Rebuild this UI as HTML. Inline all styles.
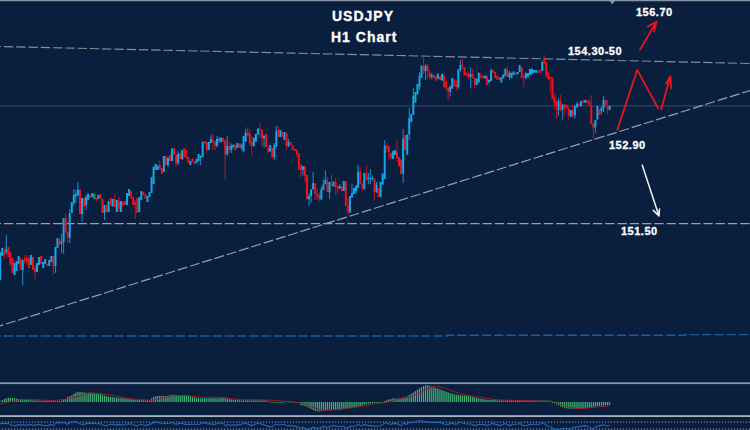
<!DOCTYPE html>
<html><head><meta charset="utf-8"><style>
html,body{margin:0;padding:0;}
body{width:750px;height:430px;overflow:hidden;background:#0a1f3d;position:relative;font-family:"Liberation Sans",sans-serif;}
.t{position:absolute;color:#ffffff;font-weight:bold;white-space:nowrap;line-height:1;-webkit-text-stroke:0.3px #fff;}
.h{font-size:14px;letter-spacing:1px;}
.n{font-size:11px;letter-spacing:0.5px;}
</style></head><body>
<svg width="750" height="430" viewBox="0 0 750 430" style="position:absolute;left:0;top:0"><defs><filter id="bl" x="-1%" y="-1%" width="102%" height="102%"><feGaussianBlur stdDeviation="0.35"/></filter></defs><rect x="0" y="105.2" width="750" height="1.4" fill="#2e3f5c"/><line x1="0" y1="46.5" x2="750" y2="63.5" stroke="#858e9c" stroke-width="1.15" stroke-dasharray="9.3 2.97" stroke-dashoffset="-4" opacity="1"/><line x1="0" y1="223.5" x2="750" y2="223.5" stroke="#98a0ad" stroke-width="1.25" stroke-dasharray="9.3 2.97" stroke-dashoffset="-4" opacity="1"/><line x1="0" y1="325.9" x2="750" y2="90.5" stroke="#98a0ad" stroke-width="1.2" stroke-dasharray="10.06 2.8" stroke-dashoffset="-6.18" opacity="1"/><path d="M0,336 H447 V335.3 H685 V334.6 H750" fill="none" stroke="#1d5aa0" stroke-width="1.4" stroke-dasharray="9.3 2.97" stroke-dashoffset="-4"/><g filter="url(#bl)"><rect x="-0.78" y="252.00" width="2" height="28.00" fill="#14a8e6"/><rect x="1.27" y="248.00" width="2" height="8.00" fill="#14a8e6"/><rect x="3.81" y="247.00" width="1" height="4.00" fill="#c0142a"/><rect x="3.81" y="255.00" width="1" height="4.00" fill="#c0142a"/><rect x="3.31" y="251.00" width="2" height="4.00" fill="#e8121e"/><rect x="5.86" y="235.00" width="1" height="14.00" fill="#1d8ccc"/><rect x="5.86" y="252.00" width="1" height="2.00" fill="#1d8ccc"/><rect x="5.36" y="249.00" width="2" height="3.00" fill="#14a8e6"/><rect x="7.40" y="247.00" width="2" height="10.00" fill="#e8121e"/><rect x="9.45" y="252.00" width="2" height="13.00" fill="#e8121e"/><rect x="11.49" y="258.00" width="2" height="15.00" fill="#e8121e"/><rect x="13.54" y="263.00" width="2" height="12.00" fill="#14a8e6"/><rect x="15.58" y="261.00" width="2" height="10.00" fill="#14a8e6"/><rect x="17.63" y="256.00" width="2" height="8.00" fill="#14a8e6"/><rect x="19.67" y="258.00" width="2" height="12.00" fill="#e8121e"/><rect x="22.22" y="270.00" width="1" height="15.00" fill="#1d8ccc"/><rect x="21.72" y="260.00" width="2" height="10.00" fill="#14a8e6"/><rect x="24.26" y="255.00" width="1" height="3.00" fill="#c0142a"/><rect x="24.26" y="261.00" width="1" height="3.00" fill="#c0142a"/><rect x="23.76" y="258.00" width="2" height="3.00" fill="#e8121e"/><rect x="26.31" y="255.00" width="1" height="3.00" fill="#c0142a"/><rect x="26.31" y="262.00" width="1" height="3.00" fill="#c0142a"/><rect x="25.81" y="258.00" width="2" height="4.00" fill="#e8121e"/><rect x="27.85" y="258.00" width="2" height="10.00" fill="#e8121e"/><rect x="29.90" y="255.00" width="2" height="10.00" fill="#14a8e6"/><rect x="31.94" y="257.00" width="2" height="13.00" fill="#e8121e"/><rect x="34.49" y="265.00" width="1" height="3.00" fill="#c0142a"/><rect x="34.49" y="272.00" width="1" height="7.00" fill="#c0142a"/><rect x="33.99" y="268.00" width="2" height="4.00" fill="#e8121e"/><rect x="36.03" y="263.00" width="2" height="9.00" fill="#14a8e6"/><rect x="38.08" y="257.00" width="2" height="8.00" fill="#14a8e6"/><rect x="40.12" y="256.00" width="2" height="8.00" fill="#e8121e"/><rect x="42.17" y="262.00" width="2" height="6.00" fill="#14a8e6"/><rect x="44.21" y="259.00" width="2" height="5.00" fill="#14a8e6"/><rect x="46.26" y="264.00" width="2" height="2.00" fill="#e8121e"/><rect x="48.30" y="260.00" width="2" height="6.00" fill="#14a8e6"/><rect x="50.35" y="256.00" width="2" height="6.00" fill="#14a8e6"/><rect x="52.90" y="266.00" width="1" height="9.00" fill="#c0142a"/><rect x="52.40" y="256.00" width="2" height="10.00" fill="#e8121e"/><rect x="54.94" y="266.00" width="1" height="7.00" fill="#1d8ccc"/><rect x="54.44" y="247.00" width="2" height="19.00" fill="#14a8e6"/><rect x="56.49" y="238.00" width="2" height="10.00" fill="#14a8e6"/><rect x="58.53" y="239.00" width="2" height="5.70" fill="#e8121e"/><rect x="61.08" y="234.00" width="1" height="8.00" fill="#1d8ccc"/><rect x="61.08" y="244.00" width="1" height="9.00" fill="#1d8ccc"/><rect x="60.58" y="242.00" width="2" height="2.00" fill="#14a8e6"/><rect x="63.12" y="242.00" width="1" height="12.00" fill="#1d8ccc"/><rect x="62.62" y="218.00" width="2" height="24.00" fill="#14a8e6"/><rect x="65.17" y="213.30" width="1" height="4.50" fill="#c0142a"/><rect x="64.67" y="217.80" width="2" height="14.80" fill="#e8121e"/><rect x="67.21" y="237.70" width="1" height="5.30" fill="#c0142a"/><rect x="66.71" y="232.00" width="2" height="5.70" fill="#e8121e"/><rect x="69.26" y="209.00" width="1" height="4.00" fill="#1d8ccc"/><rect x="69.26" y="238.00" width="1" height="5.00" fill="#1d8ccc"/><rect x="68.76" y="213.00" width="2" height="25.00" fill="#14a8e6"/><rect x="70.80" y="202.00" width="2" height="11.00" fill="#14a8e6"/><rect x="73.35" y="189.00" width="1" height="6.00" fill="#1d8ccc"/><rect x="73.35" y="203.00" width="1" height="3.00" fill="#1d8ccc"/><rect x="72.85" y="195.00" width="2" height="8.00" fill="#14a8e6"/><rect x="75.39" y="190.00" width="1" height="4.00" fill="#1d8ccc"/><rect x="75.39" y="196.00" width="1" height="7.00" fill="#1d8ccc"/><rect x="74.89" y="194.00" width="2" height="2.00" fill="#14a8e6"/><rect x="77.44" y="182.00" width="1" height="7.50" fill="#1d8ccc"/><rect x="77.44" y="195.00" width="1" height="2.00" fill="#1d8ccc"/><rect x="76.94" y="189.50" width="2" height="5.50" fill="#14a8e6"/><rect x="78.98" y="189.50" width="2" height="24.50" fill="#e8121e"/><rect x="81.53" y="214.00" width="1" height="7.50" fill="#1d8ccc"/><rect x="81.03" y="198.00" width="2" height="16.00" fill="#14a8e6"/><rect x="83.07" y="198.00" width="2" height="9.00" fill="#e8121e"/><rect x="85.62" y="195.00" width="1" height="2.00" fill="#1d8ccc"/><rect x="85.62" y="205.00" width="1" height="5.00" fill="#1d8ccc"/><rect x="85.12" y="197.00" width="2" height="8.00" fill="#14a8e6"/><rect x="87.16" y="193.60" width="2" height="6.40" fill="#14a8e6"/><rect x="89.21" y="195.00" width="2" height="3.00" fill="#e8121e"/><rect x="91.25" y="193.00" width="2" height="4.00" fill="#14a8e6"/><rect x="93.30" y="194.00" width="2" height="5.00" fill="#2aa84a"/><rect x="95.34" y="197.70" width="2" height="2.90" fill="#e8121e"/><rect x="97.39" y="195.00" width="2" height="4.00" fill="#14a8e6"/><rect x="99.43" y="194.00" width="2" height="5.00" fill="#e8121e"/><rect x="101.48" y="199.00" width="2" height="14.00" fill="#e8121e"/><rect x="104.03" y="213.00" width="1" height="7.00" fill="#1d8ccc"/><rect x="103.53" y="205.00" width="2" height="8.00" fill="#14a8e6"/><rect x="105.57" y="205.00" width="2" height="7.00" fill="#e8121e"/><rect x="107.62" y="201.00" width="2" height="11.00" fill="#14a8e6"/><rect x="109.66" y="198.00" width="2" height="7.50" fill="#e8121e"/><rect x="111.71" y="199.00" width="2" height="7.60" fill="#14a8e6"/><rect x="114.25" y="194.00" width="1" height="5.00" fill="#c0142a"/><rect x="113.75" y="199.00" width="2" height="8.00" fill="#e8121e"/><rect x="115.80" y="200.00" width="2" height="12.00" fill="#14a8e6"/><rect x="118.34" y="197.00" width="1" height="4.00" fill="#c0142a"/><rect x="118.34" y="209.00" width="1" height="3.00" fill="#c0142a"/><rect x="117.84" y="201.00" width="2" height="8.00" fill="#e8121e"/><rect x="119.89" y="201.00" width="2" height="11.00" fill="#14a8e6"/><rect x="122.43" y="201.00" width="1" height="1.00" fill="#c0142a"/><rect x="122.43" y="205.00" width="1" height="2.00" fill="#c0142a"/><rect x="121.93" y="202.00" width="2" height="3.00" fill="#e8121e"/><rect x="123.98" y="201.00" width="2" height="4.00" fill="#e8121e"/><rect x="126.02" y="193.00" width="2" height="12.00" fill="#14a8e6"/><rect x="128.07" y="189.00" width="2" height="7.00" fill="#14a8e6"/><rect x="130.11" y="191.00" width="2" height="7.50" fill="#e8121e"/><rect x="132.16" y="197.00" width="2" height="8.00" fill="#e8121e"/><rect x="134.70" y="200.00" width="1" height="2.00" fill="#c0142a"/><rect x="134.70" y="205.00" width="1" height="14.00" fill="#c0142a"/><rect x="134.20" y="202.00" width="2" height="3.00" fill="#e8121e"/><rect x="136.25" y="198.00" width="2" height="15.00" fill="#e8121e"/><rect x="138.29" y="197.00" width="2" height="15.00" fill="#14a8e6"/><rect x="140.34" y="191.00" width="2" height="9.00" fill="#14a8e6"/><rect x="142.38" y="192.00" width="2" height="3.00" fill="#e8121e"/><rect x="144.43" y="194.00" width="2" height="4.50" fill="#e8121e"/><rect x="146.47" y="196.00" width="2" height="6.00" fill="#14a8e6"/><rect x="148.52" y="192.00" width="2" height="5.00" fill="#14a8e6"/><rect x="150.56" y="177.00" width="2" height="16.00" fill="#14a8e6"/><rect x="152.61" y="166.60" width="2" height="17.40" fill="#14a8e6"/><rect x="154.66" y="164.00" width="2" height="6.00" fill="#14a8e6"/><rect x="156.70" y="165.50" width="2" height="4.50" fill="#14a8e6"/><rect x="159.25" y="160.00" width="1" height="5.00" fill="#c0142a"/><rect x="159.25" y="169.50" width="1" height="0.50" fill="#c0142a"/><rect x="158.75" y="165.00" width="2" height="4.50" fill="#e8121e"/><rect x="160.79" y="168.00" width="2" height="6.00" fill="#e8121e"/><rect x="162.84" y="156.00" width="2" height="16.00" fill="#14a8e6"/><rect x="164.88" y="156.00" width="2" height="9.00" fill="#e8121e"/><rect x="167.43" y="157.00" width="1" height="1.00" fill="#1d8ccc"/><rect x="167.43" y="165.00" width="1" height="2.00" fill="#1d8ccc"/><rect x="166.93" y="158.00" width="2" height="7.00" fill="#14a8e6"/><rect x="168.97" y="155.00" width="2" height="6.00" fill="#e8121e"/><rect x="171.02" y="148.60" width="2" height="12.40" fill="#14a8e6"/><rect x="173.06" y="148.00" width="2" height="7.00" fill="#e8121e"/><rect x="175.61" y="154.50" width="1" height="0.50" fill="#c0142a"/><rect x="175.61" y="163.00" width="1" height="4.00" fill="#c0142a"/><rect x="175.11" y="155.00" width="2" height="8.00" fill="#e8121e"/><rect x="177.65" y="151.50" width="1" height="2.50" fill="#1d8ccc"/><rect x="177.65" y="163.00" width="1" height="2.00" fill="#1d8ccc"/><rect x="177.15" y="154.00" width="2" height="9.00" fill="#14a8e6"/><rect x="179.20" y="153.00" width="2" height="6.00" fill="#e8121e"/><rect x="181.24" y="150.00" width="2" height="9.60" fill="#14a8e6"/><rect x="183.29" y="148.00" width="2" height="9.00" fill="#e8121e"/><rect x="185.33" y="150.00" width="2" height="8.50" fill="#e8121e"/><rect x="187.38" y="157.00" width="2" height="6.00" fill="#e8121e"/><rect x="189.42" y="161.00" width="2" height="4.00" fill="#14a8e6"/><rect x="191.97" y="158.00" width="1" height="1.00" fill="#c0142a"/><rect x="191.97" y="161.00" width="1" height="1.00" fill="#c0142a"/><rect x="191.47" y="159.00" width="2" height="2.00" fill="#e8121e"/><rect x="193.51" y="161.00" width="2" height="3.00" fill="#e8121e"/><rect x="195.56" y="159.00" width="2" height="4.00" fill="#14a8e6"/><rect x="197.60" y="154.00" width="2" height="7.00" fill="#14a8e6"/><rect x="200.15" y="158.00" width="1" height="7.00" fill="#1d8ccc"/><rect x="199.65" y="155.70" width="2" height="2.30" fill="#14a8e6"/><rect x="201.69" y="141.70" width="2" height="15.30" fill="#14a8e6"/><rect x="203.74" y="141.00" width="2" height="2.50" fill="#e8121e"/><rect x="206.29" y="150.00" width="1" height="3.00" fill="#c0142a"/><rect x="205.79" y="142.00" width="2" height="8.00" fill="#e8121e"/><rect x="207.83" y="142.00" width="2" height="8.00" fill="#14a8e6"/><rect x="210.38" y="135.00" width="1" height="4.00" fill="#1d8ccc"/><rect x="209.88" y="139.00" width="2" height="4.00" fill="#14a8e6"/><rect x="212.42" y="133.60" width="1" height="5.80" fill="#c0142a"/><rect x="212.42" y="141.70" width="1" height="8.30" fill="#c0142a"/><rect x="211.92" y="139.40" width="2" height="2.30" fill="#e8121e"/><rect x="214.47" y="146.00" width="1" height="4.00" fill="#c0142a"/><rect x="213.97" y="141.00" width="2" height="5.00" fill="#e8121e"/><rect x="216.51" y="136.00" width="1" height="3.00" fill="#1d8ccc"/><rect x="216.51" y="146.00" width="1" height="1.60" fill="#1d8ccc"/><rect x="216.01" y="139.00" width="2" height="7.00" fill="#14a8e6"/><rect x="218.56" y="137.00" width="1" height="2.00" fill="#1d8ccc"/><rect x="218.56" y="140.00" width="1" height="3.00" fill="#1d8ccc"/><rect x="218.06" y="139.00" width="2" height="1.20" fill="#14a8e6"/><rect x="220.10" y="137.70" width="2" height="4.30" fill="#14a8e6"/><rect x="222.15" y="137.70" width="2" height="4.00" fill="#e8121e"/><rect x="224.69" y="154.50" width="1" height="25.00" fill="#c0142a"/><rect x="224.19" y="140.00" width="2" height="14.50" fill="#e8121e"/><rect x="226.74" y="136.00" width="1" height="10.00" fill="#1d8ccc"/><rect x="226.74" y="154.50" width="1" height="1.20" fill="#1d8ccc"/><rect x="226.24" y="146.00" width="2" height="8.50" fill="#14a8e6"/><rect x="228.78" y="142.00" width="1" height="4.00" fill="#c0142a"/><rect x="228.78" y="150.00" width="1" height="3.00" fill="#c0142a"/><rect x="228.28" y="146.00" width="2" height="4.00" fill="#e8121e"/><rect x="230.83" y="143.50" width="1" height="2.50" fill="#1d8ccc"/><rect x="230.83" y="150.00" width="1" height="3.00" fill="#1d8ccc"/><rect x="230.33" y="146.00" width="2" height="4.00" fill="#14a8e6"/><rect x="232.37" y="144.60" width="2" height="3.00" fill="#14a8e6"/><rect x="234.42" y="145.00" width="2" height="5.00" fill="#e8121e"/><rect x="236.46" y="143.00" width="2" height="5.00" fill="#14a8e6"/><rect x="238.51" y="143.50" width="2" height="4.10" fill="#e8121e"/><rect x="241.05" y="143.50" width="1" height="1.10" fill="#1d8ccc"/><rect x="241.05" y="148.00" width="1" height="2.00" fill="#1d8ccc"/><rect x="240.55" y="144.60" width="2" height="3.40" fill="#14a8e6"/><rect x="242.60" y="136.00" width="2" height="15.60" fill="#14a8e6"/><rect x="245.14" y="129.00" width="1" height="3.40" fill="#1d8ccc"/><rect x="245.14" y="141.70" width="1" height="0.30" fill="#1d8ccc"/><rect x="244.64" y="132.40" width="2" height="9.30" fill="#14a8e6"/><rect x="247.19" y="127.00" width="1" height="5.00" fill="#c0142a"/><rect x="247.19" y="136.00" width="1" height="0.50" fill="#c0142a"/><rect x="246.69" y="132.00" width="2" height="4.00" fill="#e8121e"/><rect x="249.23" y="129.00" width="1" height="4.00" fill="#c0142a"/><rect x="249.23" y="143.00" width="1" height="3.00" fill="#c0142a"/><rect x="248.73" y="133.00" width="2" height="10.00" fill="#e8121e"/><rect x="251.28" y="136.50" width="1" height="5.50" fill="#c0142a"/><rect x="251.28" y="146.00" width="1" height="9.70" fill="#c0142a"/><rect x="250.78" y="142.00" width="2" height="4.00" fill="#e8121e"/><rect x="252.82" y="137.70" width="2" height="8.70" fill="#14a8e6"/><rect x="254.87" y="134.00" width="2" height="7.70" fill="#14a8e6"/><rect x="256.92" y="128.40" width="2" height="6.40" fill="#14a8e6"/><rect x="259.46" y="123.00" width="1" height="6.00" fill="#c0142a"/><rect x="259.46" y="130.00" width="1" height="8.00" fill="#c0142a"/><rect x="258.96" y="129.00" width="2" height="1.20" fill="#e8121e"/><rect x="261.51" y="138.00" width="1" height="8.40" fill="#c0142a"/><rect x="261.01" y="129.50" width="2" height="8.50" fill="#e8121e"/><rect x="263.55" y="135.00" width="1" height="1.00" fill="#1d8ccc"/><rect x="263.55" y="138.00" width="1" height="9.60" fill="#1d8ccc"/><rect x="263.05" y="136.00" width="2" height="2.00" fill="#14a8e6"/><rect x="265.10" y="133.60" width="2" height="13.40" fill="#e8121e"/><rect x="267.64" y="147.00" width="1" height="1.00" fill="#c0142a"/><rect x="267.64" y="152.00" width="1" height="1.00" fill="#c0142a"/><rect x="267.14" y="148.00" width="2" height="4.00" fill="#e8121e"/><rect x="269.19" y="145.00" width="2" height="6.60" fill="#14a8e6"/><rect x="271.73" y="157.00" width="1" height="2.00" fill="#c0142a"/><rect x="271.23" y="148.00" width="2" height="9.00" fill="#e8121e"/><rect x="273.78" y="143.00" width="1" height="2.00" fill="#1d8ccc"/><rect x="273.78" y="157.00" width="1" height="3.00" fill="#1d8ccc"/><rect x="273.28" y="145.00" width="2" height="12.00" fill="#14a8e6"/><rect x="275.82" y="126.00" width="1" height="4.70" fill="#1d8ccc"/><rect x="275.82" y="146.00" width="1" height="2.00" fill="#1d8ccc"/><rect x="275.32" y="130.70" width="2" height="15.30" fill="#14a8e6"/><rect x="277.87" y="126.00" width="1" height="4.00" fill="#c0142a"/><rect x="277.37" y="130.00" width="2" height="7.00" fill="#e8121e"/><rect x="279.41" y="130.00" width="2" height="7.00" fill="#14a8e6"/><rect x="281.46" y="132.00" width="2" height="5.00" fill="#e8121e"/><rect x="283.50" y="132.00" width="2" height="8.00" fill="#14a8e6"/><rect x="286.05" y="146.40" width="1" height="3.60" fill="#c0142a"/><rect x="285.55" y="133.00" width="2" height="13.40" fill="#e8121e"/><rect x="288.09" y="139.00" width="1" height="3.00" fill="#1d8ccc"/><rect x="288.09" y="146.60" width="1" height="0.40" fill="#1d8ccc"/><rect x="287.59" y="142.00" width="2" height="4.60" fill="#14a8e6"/><rect x="289.64" y="142.00" width="2" height="3.00" fill="#e8121e"/><rect x="291.68" y="145.00" width="2" height="5.00" fill="#e8121e"/><rect x="293.73" y="149.00" width="2" height="2.00" fill="#e8121e"/><rect x="296.27" y="149.50" width="1" height="0.50" fill="#c0142a"/><rect x="296.27" y="154.00" width="1" height="3.00" fill="#c0142a"/><rect x="295.77" y="150.00" width="2" height="4.00" fill="#e8121e"/><rect x="297.82" y="153.00" width="2" height="17.00" fill="#e8121e"/><rect x="300.36" y="164.00" width="1" height="0.70" fill="#c0142a"/><rect x="300.36" y="170.00" width="1" height="7.50" fill="#c0142a"/><rect x="299.86" y="164.70" width="2" height="5.30" fill="#e8121e"/><rect x="302.41" y="170.00" width="1" height="5.70" fill="#1d8ccc"/><rect x="301.91" y="166.00" width="2" height="4.00" fill="#14a8e6"/><rect x="304.45" y="176.00" width="1" height="6.60" fill="#c0142a"/><rect x="303.95" y="166.00" width="2" height="10.00" fill="#e8121e"/><rect x="306.00" y="175.00" width="2" height="24.40" fill="#e8121e"/><rect x="308.55" y="193.00" width="1" height="3.00" fill="#1d8ccc"/><rect x="308.55" y="199.40" width="1" height="6.40" fill="#1d8ccc"/><rect x="308.05" y="196.00" width="2" height="3.40" fill="#14a8e6"/><rect x="310.59" y="189.00" width="1" height="0.50" fill="#1d8ccc"/><rect x="310.59" y="196.00" width="1" height="7.00" fill="#1d8ccc"/><rect x="310.09" y="189.50" width="2" height="6.50" fill="#14a8e6"/><rect x="312.64" y="172.00" width="1" height="11.00" fill="#1d8ccc"/><rect x="312.14" y="183.00" width="2" height="6.50" fill="#14a8e6"/><rect x="314.68" y="183.00" width="1" height="0.70" fill="#c0142a"/><rect x="314.68" y="194.00" width="1" height="6.00" fill="#c0142a"/><rect x="314.18" y="183.70" width="2" height="10.30" fill="#e8121e"/><rect x="316.73" y="187.80" width="1" height="6.20" fill="#c0142a"/><rect x="316.73" y="196.50" width="1" height="2.90" fill="#c0142a"/><rect x="316.23" y="194.00" width="2" height="2.50" fill="#e8121e"/><rect x="318.77" y="192.40" width="1" height="2.60" fill="#c0142a"/><rect x="318.77" y="199.40" width="1" height="2.30" fill="#c0142a"/><rect x="318.27" y="195.00" width="2" height="4.40" fill="#e8121e"/><rect x="320.82" y="186.60" width="1" height="2.90" fill="#1d8ccc"/><rect x="320.82" y="199.40" width="1" height="0.60" fill="#1d8ccc"/><rect x="320.32" y="189.50" width="2" height="9.90" fill="#14a8e6"/><rect x="322.86" y="179.60" width="1" height="4.70" fill="#1d8ccc"/><rect x="322.36" y="184.30" width="2" height="5.70" fill="#14a8e6"/><rect x="324.91" y="170.50" width="1" height="9.10" fill="#1d8ccc"/><rect x="324.41" y="179.60" width="2" height="4.70" fill="#14a8e6"/><rect x="326.95" y="177.00" width="1" height="4.00" fill="#c0142a"/><rect x="326.45" y="181.00" width="2" height="11.00" fill="#e8121e"/><rect x="329.00" y="192.40" width="1" height="6.60" fill="#1d8ccc"/><rect x="328.50" y="182.00" width="2" height="10.40" fill="#14a8e6"/><rect x="331.04" y="175.00" width="1" height="8.50" fill="#c0142a"/><rect x="330.54" y="183.50" width="2" height="2.50" fill="#e8121e"/><rect x="332.59" y="181.40" width="2" height="5.20" fill="#14a8e6"/><rect x="335.13" y="178.00" width="1" height="4.00" fill="#c0142a"/><rect x="335.13" y="187.00" width="1" height="7.60" fill="#c0142a"/><rect x="334.63" y="182.00" width="2" height="5.00" fill="#e8121e"/><rect x="337.18" y="189.00" width="1" height="5.60" fill="#c0142a"/><rect x="336.68" y="186.00" width="2" height="3.00" fill="#e8121e"/><rect x="339.22" y="184.00" width="1" height="2.00" fill="#1d8ccc"/><rect x="339.22" y="188.00" width="1" height="1.40" fill="#1d8ccc"/><rect x="338.72" y="186.00" width="2" height="2.00" fill="#14a8e6"/><rect x="340.77" y="186.50" width="2" height="4.50" fill="#e8121e"/><rect x="342.81" y="181.00" width="2" height="10.00" fill="#14a8e6"/><rect x="344.86" y="181.00" width="2" height="25.00" fill="#e8121e"/><rect x="347.40" y="197.60" width="1" height="8.10" fill="#c0142a"/><rect x="347.40" y="211.50" width="1" height="3.50" fill="#c0142a"/><rect x="346.90" y="205.70" width="2" height="5.80" fill="#e8121e"/><rect x="348.95" y="196.00" width="2" height="16.70" fill="#14a8e6"/><rect x="351.49" y="183.60" width="1" height="9.40" fill="#1d8ccc"/><rect x="350.99" y="193.00" width="2" height="4.60" fill="#14a8e6"/><rect x="353.04" y="188.00" width="2" height="6.00" fill="#14a8e6"/><rect x="355.58" y="185.00" width="1" height="1.00" fill="#1d8ccc"/><rect x="355.58" y="191.00" width="1" height="3.00" fill="#1d8ccc"/><rect x="355.08" y="186.00" width="2" height="5.00" fill="#14a8e6"/><rect x="357.63" y="165.00" width="1" height="6.40" fill="#1d8ccc"/><rect x="357.13" y="171.40" width="2" height="16.60" fill="#14a8e6"/><rect x="359.68" y="167.30" width="1" height="4.70" fill="#c0142a"/><rect x="359.18" y="172.00" width="2" height="12.00" fill="#e8121e"/><rect x="361.72" y="182.40" width="1" height="1.20" fill="#c0142a"/><rect x="361.72" y="188.00" width="1" height="3.70" fill="#c0142a"/><rect x="361.22" y="183.60" width="2" height="4.40" fill="#e8121e"/><rect x="363.27" y="173.00" width="2" height="16.40" fill="#14a8e6"/><rect x="365.81" y="166.00" width="1" height="7.00" fill="#c0142a"/><rect x="365.81" y="180.00" width="1" height="1.00" fill="#c0142a"/><rect x="365.31" y="173.00" width="2" height="7.00" fill="#e8121e"/><rect x="367.86" y="173.00" width="1" height="4.80" fill="#1d8ccc"/><rect x="367.86" y="179.00" width="1" height="5.00" fill="#1d8ccc"/><rect x="367.36" y="177.80" width="2" height="1.20" fill="#14a8e6"/><rect x="369.90" y="169.00" width="1" height="8.80" fill="#1d8ccc"/><rect x="369.90" y="179.00" width="1" height="5.00" fill="#1d8ccc"/><rect x="369.40" y="177.80" width="2" height="1.20" fill="#14a8e6"/><rect x="371.95" y="175.50" width="1" height="2.50" fill="#1d8ccc"/><rect x="371.95" y="179.50" width="1" height="1.50" fill="#1d8ccc"/><rect x="371.45" y="178.00" width="2" height="1.50" fill="#14a8e6"/><rect x="373.99" y="192.30" width="1" height="7.70" fill="#c0142a"/><rect x="373.49" y="178.40" width="2" height="13.90" fill="#e8121e"/><rect x="376.04" y="182.00" width="1" height="3.00" fill="#1d8ccc"/><rect x="376.04" y="192.30" width="1" height="0.70" fill="#1d8ccc"/><rect x="375.54" y="185.00" width="2" height="7.30" fill="#14a8e6"/><rect x="377.58" y="188.00" width="2" height="9.00" fill="#e8121e"/><rect x="379.63" y="182.00" width="2" height="15.00" fill="#14a8e6"/><rect x="381.67" y="173.50" width="2" height="11.20" fill="#14a8e6"/><rect x="384.22" y="140.00" width="1" height="5.60" fill="#1d8ccc"/><rect x="383.72" y="145.60" width="2" height="33.40" fill="#14a8e6"/><rect x="386.26" y="143.00" width="1" height="2.60" fill="#c0142a"/><rect x="386.26" y="148.40" width="1" height="4.20" fill="#c0142a"/><rect x="385.76" y="145.60" width="2" height="2.80" fill="#e8121e"/><rect x="388.31" y="145.60" width="1" height="1.40" fill="#c0142a"/><rect x="388.31" y="152.00" width="1" height="7.60" fill="#c0142a"/><rect x="387.81" y="147.00" width="2" height="5.00" fill="#e8121e"/><rect x="390.35" y="152.60" width="1" height="0.40" fill="#c0142a"/><rect x="390.35" y="157.50" width="1" height="2.10" fill="#c0142a"/><rect x="389.85" y="153.00" width="2" height="4.50" fill="#e8121e"/><rect x="391.90" y="151.00" width="2" height="8.00" fill="#14a8e6"/><rect x="393.94" y="150.00" width="2" height="5.00" fill="#14a8e6"/><rect x="396.49" y="140.00" width="1" height="12.00" fill="#c0142a"/><rect x="396.49" y="158.00" width="1" height="4.00" fill="#c0142a"/><rect x="395.99" y="152.00" width="2" height="6.00" fill="#e8121e"/><rect x="398.03" y="157.00" width="2" height="9.50" fill="#e8121e"/><rect x="400.08" y="159.50" width="2" height="14.50" fill="#e8121e"/><rect x="402.62" y="129.00" width="1" height="9.60" fill="#1d8ccc"/><rect x="402.62" y="173.50" width="1" height="9.50" fill="#1d8ccc"/><rect x="402.12" y="138.60" width="2" height="34.90" fill="#14a8e6"/><rect x="404.17" y="135.00" width="2" height="15.00" fill="#e8121e"/><rect x="406.21" y="134.50" width="2" height="20.20" fill="#14a8e6"/><rect x="408.76" y="108.00" width="1" height="10.00" fill="#1d8ccc"/><rect x="408.76" y="134.50" width="1" height="5.50" fill="#1d8ccc"/><rect x="408.26" y="118.00" width="2" height="16.50" fill="#14a8e6"/><rect x="410.31" y="114.00" width="2" height="8.00" fill="#14a8e6"/><rect x="412.85" y="88.00" width="1" height="7.70" fill="#1d8ccc"/><rect x="412.35" y="95.70" width="2" height="19.30" fill="#14a8e6"/><rect x="414.40" y="92.00" width="2" height="10.70" fill="#14a8e6"/><rect x="416.44" y="84.00" width="2" height="10.50" fill="#14a8e6"/><rect x="418.99" y="72.40" width="1" height="3.60" fill="#1d8ccc"/><rect x="418.99" y="87.50" width="1" height="2.50" fill="#1d8ccc"/><rect x="418.49" y="76.00" width="2" height="11.50" fill="#14a8e6"/><rect x="420.53" y="65.50" width="2" height="12.20" fill="#14a8e6"/><rect x="423.08" y="57.30" width="1" height="8.70" fill="#c0142a"/><rect x="423.08" y="71.30" width="1" height="2.70" fill="#c0142a"/><rect x="422.58" y="66.00" width="2" height="5.30" fill="#e8121e"/><rect x="425.12" y="64.30" width="1" height="1.70" fill="#1d8ccc"/><rect x="425.12" y="71.30" width="1" height="8.70" fill="#1d8ccc"/><rect x="424.62" y="66.00" width="2" height="5.30" fill="#14a8e6"/><rect x="427.17" y="63.70" width="1" height="2.30" fill="#c0142a"/><rect x="427.17" y="71.30" width="1" height="7.50" fill="#c0142a"/><rect x="426.67" y="66.00" width="2" height="5.30" fill="#e8121e"/><rect x="429.21" y="70.00" width="1" height="2.40" fill="#c0142a"/><rect x="429.21" y="77.00" width="1" height="2.40" fill="#c0142a"/><rect x="428.71" y="72.40" width="2" height="4.60" fill="#e8121e"/><rect x="431.26" y="73.00" width="1" height="2.00" fill="#1d8ccc"/><rect x="431.26" y="77.00" width="1" height="2.40" fill="#1d8ccc"/><rect x="430.76" y="75.00" width="2" height="2.00" fill="#14a8e6"/><rect x="432.80" y="75.30" width="2" height="2.70" fill="#e8121e"/><rect x="434.85" y="76.00" width="2" height="4.60" fill="#e8121e"/><rect x="436.89" y="73.60" width="2" height="5.20" fill="#14a8e6"/><rect x="438.94" y="76.50" width="2" height="3.50" fill="#e8121e"/><rect x="440.98" y="74.00" width="2" height="6.60" fill="#14a8e6"/><rect x="443.53" y="73.00" width="1" height="3.00" fill="#c0142a"/><rect x="443.53" y="87.00" width="1" height="0.60" fill="#c0142a"/><rect x="443.03" y="76.00" width="2" height="11.00" fill="#e8121e"/><rect x="445.57" y="79.40" width="1" height="2.60" fill="#c0142a"/><rect x="445.57" y="88.00" width="1" height="3.00" fill="#c0142a"/><rect x="445.07" y="82.00" width="2" height="6.00" fill="#e8121e"/><rect x="447.62" y="87.60" width="1" height="0.40" fill="#c0142a"/><rect x="447.62" y="91.00" width="1" height="9.00" fill="#c0142a"/><rect x="447.12" y="88.00" width="2" height="3.00" fill="#e8121e"/><rect x="449.66" y="85.00" width="1" height="2.00" fill="#1d8ccc"/><rect x="449.66" y="92.00" width="1" height="4.50" fill="#1d8ccc"/><rect x="449.16" y="87.00" width="2" height="5.00" fill="#14a8e6"/><rect x="451.21" y="78.00" width="2" height="10.70" fill="#14a8e6"/><rect x="453.25" y="79.40" width="2" height="7.00" fill="#e8121e"/><rect x="455.80" y="79.70" width="1" height="4.00" fill="#c0142a"/><rect x="455.80" y="87.20" width="1" height="3.80" fill="#c0142a"/><rect x="455.30" y="83.70" width="2" height="3.50" fill="#e8121e"/><rect x="457.84" y="87.20" width="1" height="1.80" fill="#1d8ccc"/><rect x="457.34" y="69.00" width="2" height="18.20" fill="#14a8e6"/><rect x="459.89" y="60.00" width="1" height="5.00" fill="#1d8ccc"/><rect x="459.89" y="70.00" width="1" height="2.00" fill="#1d8ccc"/><rect x="459.39" y="65.00" width="2" height="5.00" fill="#14a8e6"/><rect x="461.94" y="59.00" width="1" height="5.50" fill="#c0142a"/><rect x="461.94" y="66.30" width="1" height="2.70" fill="#c0142a"/><rect x="461.44" y="64.50" width="2" height="1.80" fill="#e8121e"/><rect x="463.48" y="67.00" width="2" height="8.00" fill="#e8121e"/><rect x="465.53" y="72.70" width="2" height="3.30" fill="#e8121e"/><rect x="468.07" y="71.50" width="1" height="2.50" fill="#c0142a"/><rect x="468.07" y="77.00" width="1" height="2.70" fill="#c0142a"/><rect x="467.57" y="74.00" width="2" height="3.00" fill="#e8121e"/><rect x="470.12" y="68.00" width="1" height="6.00" fill="#1d8ccc"/><rect x="470.12" y="77.00" width="1" height="11.00" fill="#1d8ccc"/><rect x="469.62" y="74.00" width="2" height="3.00" fill="#14a8e6"/><rect x="472.16" y="69.00" width="1" height="5.00" fill="#c0142a"/><rect x="472.16" y="78.00" width="1" height="0.50" fill="#c0142a"/><rect x="471.66" y="74.00" width="2" height="4.00" fill="#e8121e"/><rect x="474.21" y="77.30" width="1" height="0.70" fill="#c0142a"/><rect x="474.21" y="85.00" width="1" height="3.40" fill="#c0142a"/><rect x="473.71" y="78.00" width="2" height="7.00" fill="#e8121e"/><rect x="475.75" y="78.50" width="2" height="6.50" fill="#14a8e6"/><rect x="477.80" y="72.70" width="2" height="9.90" fill="#14a8e6"/><rect x="480.34" y="72.70" width="1" height="2.90" fill="#c0142a"/><rect x="480.34" y="77.00" width="1" height="2.00" fill="#c0142a"/><rect x="479.84" y="75.60" width="2" height="1.40" fill="#e8121e"/><rect x="481.89" y="75.60" width="2" height="2.40" fill="#e8121e"/><rect x="483.93" y="75.60" width="2" height="2.90" fill="#14a8e6"/><rect x="485.98" y="75.60" width="2" height="9.40" fill="#e8121e"/><rect x="488.02" y="79.70" width="2" height="2.90" fill="#14a8e6"/><rect x="490.57" y="68.00" width="1" height="2.30" fill="#1d8ccc"/><rect x="490.07" y="70.30" width="2" height="10.70" fill="#14a8e6"/><rect x="492.11" y="70.00" width="2" height="2.70" fill="#e8121e"/><rect x="494.16" y="72.00" width="2" height="6.00" fill="#e8121e"/><rect x="496.20" y="75.60" width="2" height="4.10" fill="#e8121e"/><rect x="498.25" y="77.00" width="2" height="3.00" fill="#e8121e"/><rect x="500.29" y="77.30" width="2" height="5.30" fill="#14a8e6"/><rect x="502.34" y="74.40" width="2" height="4.10" fill="#14a8e6"/><rect x="504.38" y="68.60" width="2" height="7.40" fill="#14a8e6"/><rect x="506.93" y="66.30" width="1" height="4.00" fill="#c0142a"/><rect x="506.93" y="77.00" width="1" height="0.30" fill="#c0142a"/><rect x="506.43" y="70.30" width="2" height="6.70" fill="#e8121e"/><rect x="508.97" y="71.00" width="1" height="2.00" fill="#1d8ccc"/><rect x="508.97" y="77.00" width="1" height="2.70" fill="#1d8ccc"/><rect x="508.47" y="73.00" width="2" height="4.00" fill="#14a8e6"/><rect x="510.52" y="72.70" width="2" height="5.30" fill="#14a8e6"/><rect x="512.57" y="71.50" width="2" height="3.50" fill="#14a8e6"/><rect x="515.11" y="72.00" width="1" height="0.70" fill="#c0142a"/><rect x="515.11" y="74.00" width="1" height="2.70" fill="#c0142a"/><rect x="514.61" y="72.70" width="2" height="1.30" fill="#e8121e"/><rect x="516.66" y="72.00" width="2" height="2.40" fill="#14a8e6"/><rect x="518.70" y="65.00" width="2" height="7.00" fill="#14a8e6"/><rect x="520.75" y="67.40" width="2" height="10.60" fill="#e8121e"/><rect x="523.29" y="75.00" width="1" height="0.60" fill="#c0142a"/><rect x="523.29" y="77.30" width="1" height="9.70" fill="#c0142a"/><rect x="522.79" y="75.60" width="2" height="1.70" fill="#e8121e"/><rect x="524.84" y="72.70" width="2" height="5.80" fill="#14a8e6"/><rect x="526.88" y="73.00" width="2" height="4.00" fill="#14a8e6"/><rect x="528.93" y="69.00" width="2" height="6.00" fill="#14a8e6"/><rect x="530.97" y="68.60" width="2" height="5.40" fill="#14a8e6"/><rect x="533.02" y="70.00" width="2" height="2.70" fill="#14a8e6"/><rect x="535.06" y="70.00" width="2" height="2.70" fill="#14a8e6"/><rect x="537.11" y="71.00" width="2" height="1.70" fill="#e8121e"/><rect x="539.15" y="70.00" width="2" height="2.70" fill="#e8121e"/><rect x="541.70" y="61.00" width="1" height="1.00" fill="#1d8ccc"/><rect x="541.20" y="62.00" width="2" height="9.00" fill="#14a8e6"/><rect x="543.74" y="55.00" width="1" height="3.50" fill="#c0142a"/><rect x="543.74" y="63.70" width="1" height="1.30" fill="#c0142a"/><rect x="543.24" y="58.50" width="2" height="5.20" fill="#e8121e"/><rect x="545.29" y="62.00" width="2" height="14.50" fill="#e8121e"/><rect x="547.33" y="72.40" width="2" height="7.00" fill="#e8121e"/><rect x="549.88" y="79.40" width="1" height="13.40" fill="#c0142a"/><rect x="549.38" y="76.50" width="2" height="2.90" fill="#e8121e"/><rect x="551.42" y="77.70" width="2" height="21.60" fill="#e8121e"/><rect x="553.97" y="94.00" width="1" height="2.40" fill="#c0142a"/><rect x="553.97" y="103.40" width="1" height="6.60" fill="#c0142a"/><rect x="553.47" y="96.40" width="2" height="7.00" fill="#e8121e"/><rect x="556.01" y="100.00" width="1" height="2.00" fill="#c0142a"/><rect x="556.01" y="105.70" width="1" height="13.30" fill="#c0142a"/><rect x="555.51" y="102.00" width="2" height="3.70" fill="#e8121e"/><rect x="558.06" y="98.00" width="1" height="3.00" fill="#1d8ccc"/><rect x="558.06" y="110.30" width="1" height="5.30" fill="#1d8ccc"/><rect x="557.56" y="101.00" width="2" height="9.30" fill="#14a8e6"/><rect x="560.10" y="94.70" width="1" height="6.30" fill="#c0142a"/><rect x="560.10" y="110.30" width="1" height="1.70" fill="#c0142a"/><rect x="559.60" y="101.00" width="2" height="9.30" fill="#e8121e"/><rect x="562.15" y="109.80" width="1" height="9.80" fill="#1d8ccc"/><rect x="561.65" y="104.50" width="2" height="5.30" fill="#14a8e6"/><rect x="564.20" y="104.00" width="1" height="0.50" fill="#c0142a"/><rect x="564.20" y="108.00" width="1" height="7.00" fill="#c0142a"/><rect x="563.70" y="104.50" width="2" height="3.50" fill="#e8121e"/><rect x="566.24" y="104.50" width="1" height="0.50" fill="#c0142a"/><rect x="566.24" y="108.00" width="1" height="1.00" fill="#c0142a"/><rect x="565.74" y="105.00" width="2" height="3.00" fill="#e8121e"/><rect x="568.29" y="107.40" width="1" height="0.60" fill="#c0142a"/><rect x="568.29" y="115.60" width="1" height="4.00" fill="#c0142a"/><rect x="567.79" y="108.00" width="2" height="7.60" fill="#e8121e"/><rect x="569.83" y="110.00" width="2" height="6.70" fill="#14a8e6"/><rect x="572.38" y="104.50" width="1" height="5.50" fill="#c0142a"/><rect x="572.38" y="116.00" width="1" height="2.00" fill="#c0142a"/><rect x="571.88" y="110.00" width="2" height="6.00" fill="#e8121e"/><rect x="574.42" y="105.70" width="1" height="0.30" fill="#1d8ccc"/><rect x="574.42" y="115.60" width="1" height="2.90" fill="#1d8ccc"/><rect x="573.92" y="106.00" width="2" height="9.60" fill="#14a8e6"/><rect x="576.47" y="101.60" width="1" height="2.40" fill="#1d8ccc"/><rect x="576.47" y="107.40" width="1" height="0.60" fill="#1d8ccc"/><rect x="575.97" y="104.00" width="2" height="3.40" fill="#14a8e6"/><rect x="578.01" y="103.40" width="2" height="2.90" fill="#e8121e"/><rect x="580.06" y="101.00" width="2" height="5.30" fill="#14a8e6"/><rect x="582.60" y="99.30" width="1" height="1.70" fill="#c0142a"/><rect x="582.60" y="102.80" width="1" height="0.60" fill="#c0142a"/><rect x="582.10" y="101.00" width="2" height="1.80" fill="#e8121e"/><rect x="584.15" y="100.00" width="2" height="2.80" fill="#14a8e6"/><rect x="586.19" y="100.00" width="2" height="2.80" fill="#e8121e"/><rect x="588.74" y="99.30" width="1" height="2.30" fill="#c0142a"/><rect x="588.74" y="105.00" width="1" height="0.70" fill="#c0142a"/><rect x="588.24" y="101.60" width="2" height="3.40" fill="#e8121e"/><rect x="590.78" y="95.00" width="1" height="10.00" fill="#c0142a"/><rect x="590.28" y="105.00" width="2" height="19.30" fill="#e8121e"/><rect x="592.83" y="128.00" width="1" height="12.00" fill="#c0142a"/><rect x="592.33" y="123.00" width="2" height="5.00" fill="#e8121e"/><rect x="594.87" y="127.00" width="1" height="6.00" fill="#1d8ccc"/><rect x="594.37" y="120.00" width="2" height="7.00" fill="#14a8e6"/><rect x="596.42" y="106.00" width="2" height="13.60" fill="#14a8e6"/><rect x="598.46" y="109.00" width="2" height="6.00" fill="#e8121e"/><rect x="601.01" y="106.30" width="1" height="1.10" fill="#1d8ccc"/><rect x="601.01" y="111.00" width="1" height="3.40" fill="#1d8ccc"/><rect x="600.51" y="107.40" width="2" height="3.60" fill="#14a8e6"/><rect x="603.05" y="95.80" width="1" height="4.20" fill="#1d8ccc"/><rect x="603.05" y="108.60" width="1" height="3.40" fill="#1d8ccc"/><rect x="602.55" y="100.00" width="2" height="8.60" fill="#14a8e6"/><rect x="605.10" y="99.30" width="1" height="0.70" fill="#c0142a"/><rect x="605.10" y="105.00" width="1" height="2.40" fill="#c0142a"/><rect x="604.60" y="100.00" width="2" height="5.00" fill="#e8121e"/><rect x="607.14" y="100.00" width="1" height="6.00" fill="#c0142a"/><rect x="607.14" y="109.80" width="1" height="4.20" fill="#c0142a"/><rect x="606.64" y="106.00" width="2" height="3.80" fill="#e8121e"/><rect x="608.69" y="105.70" width="2" height="4.10" fill="#14a8e6"/></g><rect x="0" y="382.3" width="750" height="1.8" fill="#8d97a5"/><rect x="0" y="415.2" width="750" height="1.8" fill="#aab2be"/><g fill="#3fb872" filter="url(#bl)"><rect x="-0.38" y="401.19" width="1.2" height="0.81"/><rect x="1.67" y="400.12" width="1.2" height="1.88"/><rect x="3.71" y="399.06" width="1.2" height="2.94"/><rect x="5.76" y="398.33" width="1.2" height="3.67"/><rect x="7.80" y="397.76" width="1.2" height="4.24"/><rect x="9.85" y="397.74" width="1.2" height="4.26"/><rect x="11.89" y="397.95" width="1.2" height="4.05"/><rect x="13.94" y="398.29" width="1.2" height="3.71"/><rect x="15.98" y="398.67" width="1.2" height="3.33"/><rect x="18.03" y="399.04" width="1.2" height="2.96"/><rect x="20.07" y="399.37" width="1.2" height="2.63"/><rect x="22.12" y="399.57" width="1.2" height="2.43"/><rect x="24.16" y="399.78" width="1.2" height="2.22"/><rect x="26.21" y="399.98" width="1.2" height="2.02"/><rect x="28.25" y="400.09" width="1.2" height="1.91"/><rect x="30.30" y="400.19" width="1.2" height="1.81"/><rect x="32.34" y="400.30" width="1.2" height="1.70"/><rect x="34.39" y="400.41" width="1.2" height="1.59"/><rect x="36.43" y="400.53" width="1.2" height="1.47"/><rect x="38.48" y="400.65" width="1.2" height="1.35"/><rect x="40.52" y="400.73" width="1.2" height="1.27"/><rect x="42.57" y="400.77" width="1.2" height="1.23"/><rect x="44.61" y="400.82" width="1.2" height="1.18"/><rect x="46.66" y="400.87" width="1.2" height="1.13"/><rect x="48.70" y="400.91" width="1.2" height="1.09"/><rect x="50.75" y="400.96" width="1.2" height="1.04"/><rect x="52.80" y="401.00" width="1.2" height="1.00"/><rect x="54.84" y="401.00" width="1.2" height="1.00"/><rect x="56.89" y="401.00" width="1.2" height="1.00"/><rect x="58.93" y="401.00" width="1.2" height="1.00"/><rect x="60.98" y="400.56" width="1.2" height="1.44"/><rect x="63.02" y="399.99" width="1.2" height="2.01"/><rect x="65.07" y="398.96" width="1.2" height="3.04"/><rect x="67.11" y="396.98" width="1.2" height="5.02"/><rect x="69.16" y="396.09" width="1.2" height="5.91"/><rect x="71.20" y="395.37" width="1.2" height="6.63"/><rect x="73.25" y="393.88" width="1.2" height="8.12"/><rect x="75.29" y="392.61" width="1.2" height="9.39"/><rect x="77.34" y="391.73" width="1.2" height="10.27"/><rect x="79.38" y="391.98" width="1.2" height="10.02"/><rect x="81.43" y="392.28" width="1.2" height="9.72"/><rect x="83.47" y="392.57" width="1.2" height="9.43"/><rect x="85.52" y="392.77" width="1.2" height="9.23"/><rect x="87.56" y="392.89" width="1.2" height="9.11"/><rect x="89.61" y="393.02" width="1.2" height="8.98"/><rect x="91.65" y="393.23" width="1.2" height="8.77"/><rect x="93.70" y="393.43" width="1.2" height="8.57"/><rect x="95.74" y="393.63" width="1.2" height="8.37"/><rect x="97.79" y="393.84" width="1.2" height="8.16"/><rect x="99.83" y="394.14" width="1.2" height="7.86"/><rect x="101.88" y="394.81" width="1.2" height="7.19"/><rect x="103.93" y="395.49" width="1.2" height="6.51"/><rect x="105.97" y="396.16" width="1.2" height="5.84"/><rect x="108.02" y="396.51" width="1.2" height="5.49"/><rect x="110.06" y="396.78" width="1.2" height="5.22"/><rect x="112.11" y="397.05" width="1.2" height="4.95"/><rect x="114.15" y="397.31" width="1.2" height="4.69"/><rect x="116.20" y="397.58" width="1.2" height="4.42"/><rect x="118.24" y="397.85" width="1.2" height="4.15"/><rect x="120.29" y="398.10" width="1.2" height="3.90"/><rect x="122.33" y="398.34" width="1.2" height="3.66"/><rect x="124.38" y="398.59" width="1.2" height="3.41"/><rect x="126.42" y="398.83" width="1.2" height="3.17"/><rect x="128.47" y="399.07" width="1.2" height="2.93"/><rect x="130.51" y="399.31" width="1.2" height="2.69"/><rect x="132.56" y="399.55" width="1.2" height="2.45"/><rect x="134.60" y="399.79" width="1.2" height="2.21"/><rect x="136.65" y="400.01" width="1.2" height="1.99"/><rect x="138.69" y="400.05" width="1.2" height="1.95"/><rect x="140.74" y="400.09" width="1.2" height="1.91"/><rect x="142.78" y="400.14" width="1.2" height="1.86"/><rect x="144.83" y="400.18" width="1.2" height="1.82"/><rect x="146.87" y="400.22" width="1.2" height="1.78"/><rect x="148.92" y="400.27" width="1.2" height="1.73"/><rect x="150.96" y="398.61" width="1.2" height="3.39"/><rect x="153.01" y="396.88" width="1.2" height="5.12"/><rect x="155.06" y="396.35" width="1.2" height="5.65"/><rect x="157.10" y="396.00" width="1.2" height="6.00"/><rect x="159.15" y="396.00" width="1.2" height="6.00"/><rect x="161.19" y="396.00" width="1.2" height="6.00"/><rect x="163.24" y="396.00" width="1.2" height="6.00"/><rect x="165.28" y="396.00" width="1.2" height="6.00"/><rect x="167.33" y="395.70" width="1.2" height="6.30"/><rect x="169.37" y="395.03" width="1.2" height="6.97"/><rect x="171.42" y="394.70" width="1.2" height="7.30"/><rect x="173.46" y="394.70" width="1.2" height="7.30"/><rect x="175.51" y="394.83" width="1.2" height="7.17"/><rect x="177.55" y="395.08" width="1.2" height="6.92"/><rect x="179.60" y="395.30" width="1.2" height="6.70"/><rect x="181.64" y="395.30" width="1.2" height="6.70"/><rect x="183.69" y="395.30" width="1.2" height="6.70"/><rect x="185.73" y="395.30" width="1.2" height="6.70"/><rect x="187.78" y="395.78" width="1.2" height="6.22"/><rect x="189.82" y="396.50" width="1.2" height="5.50"/><rect x="191.87" y="397.02" width="1.2" height="4.98"/><rect x="193.91" y="397.46" width="1.2" height="4.54"/><rect x="195.96" y="397.90" width="1.2" height="4.10"/><rect x="198.00" y="398.27" width="1.2" height="3.73"/><rect x="200.05" y="398.46" width="1.2" height="3.54"/><rect x="202.09" y="398.32" width="1.2" height="3.68"/><rect x="204.14" y="398.30" width="1.2" height="3.70"/><rect x="206.19" y="398.30" width="1.2" height="3.70"/><rect x="208.23" y="398.30" width="1.2" height="3.70"/><rect x="210.28" y="398.30" width="1.2" height="3.70"/><rect x="212.32" y="398.30" width="1.2" height="3.70"/><rect x="214.37" y="398.30" width="1.2" height="3.70"/><rect x="216.41" y="398.30" width="1.2" height="3.70"/><rect x="218.46" y="398.30" width="1.2" height="3.70"/><rect x="220.50" y="398.17" width="1.2" height="3.83"/><rect x="222.55" y="397.92" width="1.2" height="4.08"/><rect x="224.59" y="397.80" width="1.2" height="4.20"/><rect x="226.64" y="398.74" width="1.2" height="3.26"/><rect x="228.68" y="399.08" width="1.2" height="2.92"/><rect x="230.73" y="399.42" width="1.2" height="2.58"/><rect x="232.77" y="399.73" width="1.2" height="2.27"/><rect x="234.82" y="399.91" width="1.2" height="2.09"/><rect x="236.86" y="400.08" width="1.2" height="1.92"/><rect x="238.91" y="400.26" width="1.2" height="1.74"/><rect x="240.95" y="400.30" width="1.2" height="1.70"/><rect x="243.00" y="400.30" width="1.2" height="1.70"/><rect x="245.04" y="400.30" width="1.2" height="1.70"/><rect x="247.09" y="400.30" width="1.2" height="1.70"/><rect x="249.13" y="400.30" width="1.2" height="1.70"/><rect x="251.18" y="400.30" width="1.2" height="1.70"/><rect x="253.22" y="400.30" width="1.2" height="1.70"/><rect x="255.27" y="400.30" width="1.2" height="1.70"/><rect x="257.32" y="400.30" width="1.2" height="1.70"/><rect x="259.36" y="400.30" width="1.2" height="1.70"/><rect x="261.41" y="400.30" width="1.2" height="1.70"/><rect x="263.45" y="400.30" width="1.2" height="1.70"/><rect x="265.50" y="400.30" width="1.2" height="1.70"/><rect x="267.54" y="401.32" width="1.2" height="0.68"/><rect x="269.59" y="401.61" width="1.2" height="0.80"/><rect x="271.63" y="401.89" width="1.2" height="0.80"/><rect x="273.68" y="402.00" width="1.2" height="0.80"/><rect x="275.72" y="402.00" width="1.2" height="0.80"/><rect x="277.77" y="402.00" width="1.2" height="0.80"/><rect x="279.81" y="402.00" width="1.2" height="0.80"/><rect x="281.86" y="402.00" width="1.2" height="0.80"/><rect x="283.90" y="401.06" width="1.2" height="0.94"/><rect x="285.95" y="401.28" width="1.2" height="0.72"/><rect x="287.99" y="401.51" width="1.2" height="0.80"/><rect x="290.04" y="401.74" width="1.2" height="0.80"/><rect x="292.08" y="401.96" width="1.2" height="0.80"/><rect x="294.13" y="402.00" width="1.2" height="0.80"/><rect x="296.17" y="402.00" width="1.2" height="0.82"/><rect x="298.22" y="402.00" width="1.2" height="1.26"/><rect x="300.26" y="402.00" width="1.2" height="2.95"/><rect x="302.31" y="402.00" width="1.2" height="3.53"/><rect x="304.35" y="402.00" width="1.2" height="4.12"/><rect x="306.40" y="402.00" width="1.2" height="4.70"/><rect x="308.45" y="402.00" width="1.2" height="5.82"/><rect x="310.49" y="402.00" width="1.2" height="6.95"/><rect x="312.54" y="402.00" width="1.2" height="8.04"/><rect x="314.58" y="402.00" width="1.2" height="8.71"/><rect x="316.63" y="402.00" width="1.2" height="9.30"/><rect x="318.67" y="402.00" width="1.2" height="9.30"/><rect x="320.72" y="402.00" width="1.2" height="9.21"/><rect x="322.76" y="402.00" width="1.2" height="8.60"/><rect x="324.81" y="402.00" width="1.2" height="8.04"/><rect x="326.85" y="402.00" width="1.2" height="7.60"/><rect x="328.90" y="402.00" width="1.2" height="7.60"/><rect x="330.94" y="402.00" width="1.2" height="7.60"/><rect x="332.99" y="402.00" width="1.2" height="7.60"/><rect x="335.03" y="402.00" width="1.2" height="7.60"/><rect x="337.08" y="402.00" width="1.2" height="7.60"/><rect x="339.12" y="402.00" width="1.2" height="7.60"/><rect x="341.17" y="402.00" width="1.2" height="7.37"/><rect x="343.21" y="402.00" width="1.2" height="7.11"/><rect x="345.26" y="402.00" width="1.2" height="6.85"/><rect x="347.30" y="402.00" width="1.2" height="6.49"/><rect x="349.35" y="402.00" width="1.2" height="6.01"/><rect x="351.39" y="402.00" width="1.2" height="5.53"/><rect x="353.44" y="402.00" width="1.2" height="5.11"/><rect x="355.48" y="402.00" width="1.2" height="4.73"/><rect x="357.53" y="402.00" width="1.2" height="4.35"/><rect x="359.58" y="402.00" width="1.2" height="3.95"/><rect x="361.62" y="402.00" width="1.2" height="3.37"/><rect x="363.67" y="402.00" width="1.2" height="2.78"/><rect x="365.71" y="402.00" width="1.2" height="2.20"/><rect x="367.76" y="402.00" width="1.2" height="1.77"/><rect x="369.80" y="402.00" width="1.2" height="1.43"/><rect x="371.85" y="402.00" width="1.2" height="1.09"/><rect x="373.89" y="402.00" width="1.2" height="0.87"/><rect x="375.94" y="402.00" width="1.2" height="0.70"/><rect x="377.98" y="402.00" width="1.2" height="0.80"/><rect x="380.03" y="402.00" width="1.2" height="0.80"/><rect x="382.07" y="401.67" width="1.2" height="0.80"/><rect x="384.12" y="401.01" width="1.2" height="0.99"/><rect x="386.16" y="400.19" width="1.2" height="1.81"/><rect x="388.21" y="399.49" width="1.2" height="2.51"/><rect x="390.25" y="398.96" width="1.2" height="3.04"/><rect x="392.30" y="398.43" width="1.2" height="3.57"/><rect x="394.34" y="398.37" width="1.2" height="3.63"/><rect x="396.39" y="398.34" width="1.2" height="3.66"/><rect x="398.43" y="398.31" width="1.2" height="3.69"/><rect x="400.48" y="398.05" width="1.2" height="3.95"/><rect x="402.52" y="397.59" width="1.2" height="4.41"/><rect x="404.57" y="397.12" width="1.2" height="4.88"/><rect x="406.61" y="396.56" width="1.2" height="5.44"/><rect x="408.66" y="395.19" width="1.2" height="6.81"/><rect x="410.71" y="393.83" width="1.2" height="8.17"/><rect x="412.75" y="392.46" width="1.2" height="9.54"/><rect x="414.80" y="391.09" width="1.2" height="10.91"/><rect x="416.84" y="389.72" width="1.2" height="12.28"/><rect x="418.89" y="388.35" width="1.2" height="13.65"/><rect x="420.93" y="387.17" width="1.2" height="14.83"/><rect x="422.98" y="386.07" width="1.2" height="15.93"/><rect x="425.02" y="385.30" width="1.2" height="16.70"/><rect x="427.07" y="385.30" width="1.2" height="16.70"/><rect x="429.11" y="385.98" width="1.2" height="16.02"/><rect x="431.16" y="386.80" width="1.2" height="15.20"/><rect x="433.20" y="387.53" width="1.2" height="14.47"/><rect x="435.25" y="388.11" width="1.2" height="13.89"/><rect x="437.29" y="388.70" width="1.2" height="13.30"/><rect x="439.34" y="389.28" width="1.2" height="12.72"/><rect x="441.38" y="390.06" width="1.2" height="11.94"/><rect x="443.43" y="390.85" width="1.2" height="11.15"/><rect x="445.47" y="391.64" width="1.2" height="10.36"/><rect x="447.52" y="392.37" width="1.2" height="9.63"/><rect x="449.56" y="393.05" width="1.2" height="8.95"/><rect x="451.61" y="393.74" width="1.2" height="8.26"/><rect x="453.65" y="394.23" width="1.2" height="7.77"/><rect x="455.70" y="394.61" width="1.2" height="7.39"/><rect x="457.74" y="394.99" width="1.2" height="7.01"/><rect x="459.79" y="395.32" width="1.2" height="6.68"/><rect x="461.84" y="395.44" width="1.2" height="6.56"/><rect x="463.88" y="395.56" width="1.2" height="6.44"/><rect x="465.93" y="395.67" width="1.2" height="6.33"/><rect x="467.97" y="396.04" width="1.2" height="5.96"/><rect x="470.02" y="396.48" width="1.2" height="5.52"/><rect x="472.06" y="396.93" width="1.2" height="5.07"/><rect x="474.11" y="397.41" width="1.2" height="4.59"/><rect x="476.15" y="397.91" width="1.2" height="4.09"/><rect x="478.20" y="398.41" width="1.2" height="3.59"/><rect x="480.24" y="398.82" width="1.2" height="3.18"/><rect x="482.29" y="399.11" width="1.2" height="2.89"/><rect x="484.33" y="399.40" width="1.2" height="2.60"/><rect x="486.38" y="399.70" width="1.2" height="2.30"/><rect x="488.42" y="399.80" width="1.2" height="2.20"/><rect x="490.47" y="399.90" width="1.2" height="2.10"/><rect x="492.51" y="400.00" width="1.2" height="2.00"/><rect x="494.56" y="400.09" width="1.2" height="1.91"/><rect x="496.60" y="400.18" width="1.2" height="1.82"/><rect x="498.65" y="400.27" width="1.2" height="1.73"/><rect x="500.69" y="400.31" width="1.2" height="1.69"/><rect x="502.74" y="400.31" width="1.2" height="1.69"/><rect x="504.78" y="400.32" width="1.2" height="1.68"/><rect x="506.83" y="400.33" width="1.2" height="1.67"/><rect x="508.87" y="400.34" width="1.2" height="1.66"/><rect x="510.92" y="400.35" width="1.2" height="1.65"/><rect x="512.97" y="400.35" width="1.2" height="1.65"/><rect x="515.01" y="400.36" width="1.2" height="1.64"/><rect x="517.06" y="400.37" width="1.2" height="1.63"/><rect x="519.10" y="400.38" width="1.2" height="1.62"/><rect x="521.15" y="400.39" width="1.2" height="1.61"/><rect x="523.19" y="400.39" width="1.2" height="1.61"/><rect x="525.24" y="400.40" width="1.2" height="1.60"/><rect x="527.28" y="400.41" width="1.2" height="1.59"/><rect x="529.33" y="400.42" width="1.2" height="1.58"/><rect x="531.37" y="400.43" width="1.2" height="1.57"/><rect x="533.42" y="400.43" width="1.2" height="1.57"/><rect x="535.46" y="400.44" width="1.2" height="1.56"/><rect x="537.51" y="400.45" width="1.2" height="1.55"/><rect x="539.55" y="400.46" width="1.2" height="1.54"/><rect x="541.60" y="400.47" width="1.2" height="1.53"/><rect x="543.64" y="400.47" width="1.2" height="1.53"/><rect x="545.69" y="400.48" width="1.2" height="1.52"/><rect x="547.73" y="400.49" width="1.2" height="1.51"/><rect x="549.78" y="400.50" width="1.2" height="1.50"/><rect x="551.82" y="401.92" width="1.2" height="0.80"/><rect x="553.87" y="402.00" width="1.2" height="1.22"/><rect x="555.91" y="402.00" width="1.2" height="2.21"/><rect x="557.96" y="402.00" width="1.2" height="3.21"/><rect x="560.00" y="402.00" width="1.2" height="4.21"/><rect x="562.05" y="402.00" width="1.2" height="4.98"/><rect x="564.10" y="402.00" width="1.2" height="5.69"/><rect x="566.14" y="402.00" width="1.2" height="6.41"/><rect x="568.19" y="402.00" width="1.2" height="6.61"/><rect x="570.23" y="402.00" width="1.2" height="6.73"/><rect x="572.28" y="402.00" width="1.2" height="6.80"/><rect x="574.32" y="402.00" width="1.2" height="6.80"/><rect x="576.37" y="402.00" width="1.2" height="6.80"/><rect x="578.41" y="402.00" width="1.2" height="6.80"/><rect x="580.46" y="402.00" width="1.2" height="6.80"/><rect x="582.50" y="402.00" width="1.2" height="6.78"/><rect x="584.55" y="402.00" width="1.2" height="6.40"/><rect x="586.59" y="402.00" width="1.2" height="6.02"/><rect x="588.64" y="402.00" width="1.2" height="5.64"/><rect x="590.68" y="402.00" width="1.2" height="5.26"/><rect x="592.73" y="402.00" width="1.2" height="4.89"/><rect x="594.77" y="402.00" width="1.2" height="4.51"/><rect x="596.82" y="402.00" width="1.2" height="4.26"/><rect x="598.86" y="402.00" width="1.2" height="4.05"/><rect x="600.91" y="402.00" width="1.2" height="3.85"/><rect x="602.95" y="402.00" width="1.2" height="3.64"/><rect x="605.00" y="402.00" width="1.2" height="3.39"/><rect x="607.04" y="402.00" width="1.2" height="3.11"/><rect x="609.09" y="402.00" width="1.2" height="2.84"/></g><polyline points="0,404 13,401 20,399.7 27,399.3 40,400 53,400.7 65,399.3 80,396 90,392.7 100,393.5 113,395.3 127,398.4 140,399.7 153,400.3 160,398.7 169,396.7 175,395.6 187,395.3 193,396.3 200,397.3 220,397.3 227,398 240,399.7 253,399.7 267,400 280,401 293,402 300,402.8 307,404.7 313,407.3 320,409.6 327,410.7 340,409.3 353,407.6 367,405.6 373,404 380,403.3 387,402.4 393,400.7 400,398.7 411,397 420,392.7 427,389 433,386.7 437,386.4 447,388.7 453,391.3 460,393.6 467,395.3 480,397.3 493,399.3 500,400 532,400.8 553,401.6 564,405.6 572,408 580,408.5 588,408 596,407.2 609,406" fill="none" stroke="#a0182a" stroke-width="1"/><line x1="0" y1="422" x2="750" y2="422" stroke="#76829a" stroke-width="1.25" stroke-dasharray="1.2 1.8" stroke-dashoffset="-1.9"/><line x1="0" y1="429.2" x2="750" y2="429.2" stroke="#76829a" stroke-width="1.25" stroke-dasharray="1.2 1.8" stroke-dashoffset="-1.9"/><polyline points="0,423.6 8,423.2 12,425.2 16,425.6 19.2,424.4 20.8,425.6 23.2,424.4 26.4,425.4 30.4,424.4 33.6,425.6 38.4,424.4 43.2,425.4 48,425.6 51.2,424.4 53.2,425.6 56,423.2 58.4,422.4 60,423.2 64,422.4 67.2,424.4 70.4,422.4 76,421.6 80,424 84,424.4 88,423.4 95.2,423.4 96.8,424 100,423.4 103.2,425.2 106.4,425.8 109.6,424.4 114.4,424.2 116,425.2 117.6,424.4 120,424.6 124,425.2 128,423.8 132,424 136.8,426 140.8,424 144.8,425.6 149.6,424.4 153.6,422.4 158.4,422.4 161.6,423.2 166.4,423.6 169.6,423.2 172.8,422.4 176,424.4 180,423.2 186.4,424.4 200,424.2 203.2,422.4 206.4,423.6 215.2,424.4 217.6,423 223.2,423.2 225.6,426 228,424.4 231.2,425.4 234.4,424.6 236,425.6 237.6,424.4 240,424.9 244.8,422.8 251.2,425.6 257.6,423.2 263.2,424.4 268,426.4 272,426.8 276,424 279.2,425 284,424.2 287.2,426 289.6,425.4 296,426.4 300,428 303.2,427.4 308,429.6 312.8,427.4 317.6,428.4 324,426.4 327.2,427.4 333.6,425.6 338.4,426.8 343.2,426 346.4,428.4 350.4,426.4 356,426 358.4,424.2 360,425.6 361.6,426 364.8,424.4 368,425.6 372.8,425.6 375.2,426.4 380,426 384,423.6 385.6,422.6 390.4,424.4 393.6,423.4 396.8,423.6 400.8,425.6 404,423.2 406.4,424.4 409.6,422.4 412.8,422.8 416,421.6 420,420.8 424,421.4 428,422.4 440,422.4 444,424 448,424.4 452,423.2 456,424.4 460,422 464.8,423.8 471.2,424 474.4,425.6 480,424.3 484.8,424.6 487.2,425.6 492,423.6 496,424.4 500,425.6 504.8,423.6 509.6,425.6 512,424.4 518.4,424 520,423.2 522.4,425.6 528,425.2 529.6,424.4 540,424.2 543.2,422.8 547.2,426 550.4,426.4 553.6,429.2 560,429.2 564,428.2 570.4,428.8 574.4,427.2 580,426.4 584.8,425.6 588,426.4 592.4,429.2 596.5,426.4 600,425.6 604,424.8 607.2,426 609.6,425.2" fill="none" stroke="#1f68bf" stroke-width="1.1"/><rect x="0" y="0" width="750" height="1.25" fill="#8a94a2"/><polygon points="609,0 615.5,0 612.3,4.2" fill="#8f9bb0"/><g stroke="#e8141e" stroke-width="1.8" fill="none" stroke-linecap="round" stroke-linejoin="round"><path d="M639.9,49.9 L656.5,21.7 M647.7,26.6 L656.5,21.7 L654.2,31.5"/><path d="M617.4,129.8 L637.2,69.9 L658.1,108.2 M661.2,109.3 L670.4,76.3 M665.9,83.6 L670.4,76.3 L671.2,88.3"/></g><g stroke="#f4f4f4" stroke-width="1.5" fill="none" stroke-linecap="round" stroke-linejoin="round"><path d="M642.2,165.1 L659,216 M653.3,210.4 L659,216 L659.5,209"/></g></svg>
<div class="t h" style="left:332px;top:9px;">USDJPY</div>
<div class="t h" style="left:331px;top:30px;">H1 Chart</div>
<div class="t n" style="left:636px;top:7px;">156.70</div>
<div class="t n" style="left:568px;top:46px;">154.30-50</div>
<div class="t n" style="left:609px;top:140px;">152.90</div>
<div class="t n" style="left:621px;top:226px;">151.50</div>
</body></html>
